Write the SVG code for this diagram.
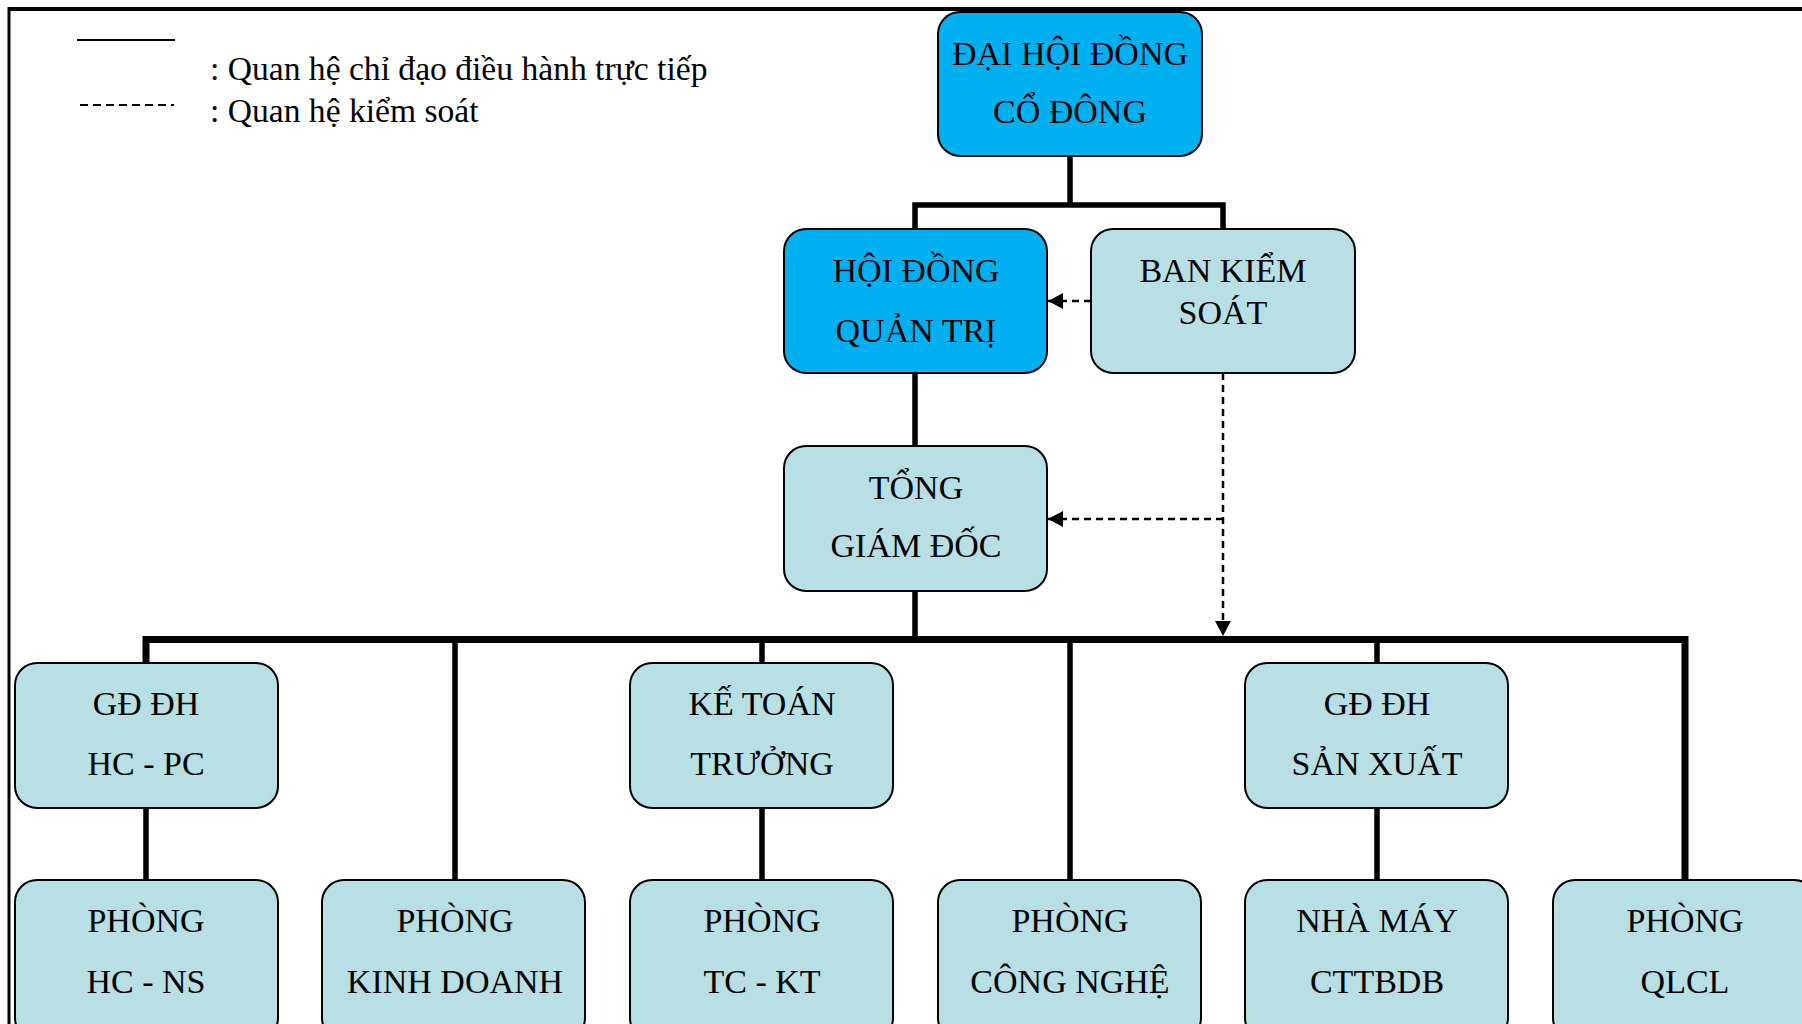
<svg xmlns="http://www.w3.org/2000/svg" width="1802" height="1024" viewBox="0 0 1802 1024">
<defs>
<style>
.box{stroke:#000;stroke-width:2}
.blue{fill:#00B0F0}
.aqua{fill:#B7DFE4}
.t{font-family:"Liberation Serif","Times New Roman",serif;font-size:34px;fill:#000;text-anchor:middle}
.lg{font-family:"Liberation Serif","Times New Roman",serif;font-size:33.6px;fill:#000}
.solid{stroke:#000;stroke-width:5.5;fill:none}
.bar{stroke:#000;stroke-width:7;fill:none}
.dash{stroke:#000;stroke-width:2.5;fill:none;stroke-dasharray:7 5}
</style>
<marker id="ah" viewBox="0 0 15 16" refX="15" refY="8" markerWidth="15" markerHeight="16" markerUnits="userSpaceOnUse" orient="auto">
<path d="M0,0 L15,8 L0,16 z" fill="#000"/>
</marker>
</defs>
<rect width="1802" height="1024" fill="#fff"/>
<g id="frame">
<line x1="9" y1="9" x2="1802" y2="9" stroke="#000" stroke-width="4"/>
<line x1="9" y1="7" x2="9" y2="1024" stroke="#000" stroke-width="3"/>
</g>
<g id="legend">
<line x1="77" y1="40" x2="175" y2="40" stroke="#000" stroke-width="2"/>
<line x1="80" y1="105" x2="174" y2="105" stroke="#000" stroke-width="2" stroke-dasharray="8 5"/>
<text class="lg" x="210" y="80">: Quan hệ chỉ đạo điều hành trực tiếp</text>
<text class="lg" x="210" y="122">: Quan hệ kiểm soát</text>
</g>
<g id="connectors">
<polyline class="solid" points="1070,156 1070,205"/>
<polyline class="solid" points="915,229 915,205 1223,205 1223,229"/>
<polyline class="solid" points="915,373 915,446"/>
<polyline class="solid" points="915,591 915,639"/>
<polyline class="bar" points="146,663 146,639.5 1685,639.5 1685,880"/>
<line class="solid" x1="455" y1="639" x2="455" y2="880"/>
<line class="solid" x1="762" y1="639" x2="762" y2="663"/>
<line class="solid" x1="1070" y1="639" x2="1070" y2="880"/>
<line class="solid" x1="1377" y1="639" x2="1377" y2="663"/>
<line class="solid" x1="146" y1="808" x2="146" y2="880"/>
<line class="solid" x1="762" y1="808" x2="762" y2="880"/>
<line class="solid" x1="1377" y1="808" x2="1377" y2="880"/>
<line class="dash" x1="1091" y1="301" x2="1048" y2="301" marker-end="url(#ah)"/>
<line class="dash" x1="1223" y1="373" x2="1223" y2="636" marker-end="url(#ah)"/>
<line class="dash" x1="1223" y1="519" x2="1048" y2="519" marker-end="url(#ah)"/>
</g>
<g id="n-dhdcd"><rect class="box blue" x="938" y="12" width="264" height="144" rx="22"/><text class="t" x="1070" y="64.5">ĐẠI HỘI ĐỒNG</text><text class="t" x="1070" y="122.5">CỔ ĐÔNG</text></g>
<g id="n-hdqt"><rect class="box blue" x="784" y="229" width="263" height="144" rx="22"/><text class="t" x="916" y="281.5">HỘI ĐỒNG</text><text class="t" x="916" y="341.5">QUẢN TRỊ</text></g>
<g id="n-bks"><rect class="box aqua" x="1091" y="229" width="264" height="144" rx="22"/><text class="t" x="1223" y="281.5">BAN KIỂM</text><text class="t" x="1223" y="323.5">SOÁT</text></g>
<g id="n-tgd"><rect class="box aqua" x="784" y="446" width="263" height="145" rx="22"/><text class="t" x="916" y="498.5">TỔNG</text><text class="t" x="916" y="556.5">GIÁM ĐỐC</text></g>
<g id="n-gdhcpc"><rect class="box aqua" x="15" y="663" width="263" height="145" rx="22"/><text class="t" x="146" y="714.5">GĐ ĐH</text><text class="t" x="146" y="774.5">HC - PC</text></g>
<g id="n-ktt"><rect class="box aqua" x="630" y="663" width="263" height="145" rx="22"/><text class="t" x="762" y="714.5">KẾ TOÁN</text><text class="t" x="762" y="774.5">TRƯỞNG</text></g>
<g id="n-gdsx"><rect class="box aqua" x="1245" y="663" width="263" height="145" rx="22"/><text class="t" x="1377" y="714.5">GĐ ĐH</text><text class="t" x="1377" y="774.5">SẢN XUẤT</text></g>
<g id="n-hcns"><rect class="box aqua" x="15" y="880" width="263" height="160" rx="22"/><text class="t" x="146" y="931.5">PHÒNG</text><text class="t" x="146" y="992.5">HC - NS</text></g>
<g id="n-kd"><rect class="box aqua" x="322" y="880" width="263" height="160" rx="22"/><text class="t" x="455" y="931.5">PHÒNG</text><text class="t" x="455" y="992.5">KINH DOANH</text></g>
<g id="n-tckt"><rect class="box aqua" x="630" y="880" width="263" height="160" rx="22"/><text class="t" x="762" y="931.5">PHÒNG</text><text class="t" x="762" y="992.5">TC - KT</text></g>
<g id="n-cn"><rect class="box aqua" x="938" y="880" width="263" height="160" rx="22"/><text class="t" x="1070" y="931.5">PHÒNG</text><text class="t" x="1070" y="992.5">CÔNG NGHỆ</text></g>
<g id="n-nm"><rect class="box aqua" x="1245" y="880" width="263" height="160" rx="22"/><text class="t" x="1377" y="931.5">NHÀ MÁY</text><text class="t" x="1377" y="992.5">CTTBDB</text></g>
<g id="n-qlcl"><rect class="box aqua" x="1553" y="880" width="263" height="160" rx="22"/><text class="t" x="1685" y="931.5">PHÒNG</text><text class="t" x="1685" y="992.5">QLCL</text></g>
</svg>
